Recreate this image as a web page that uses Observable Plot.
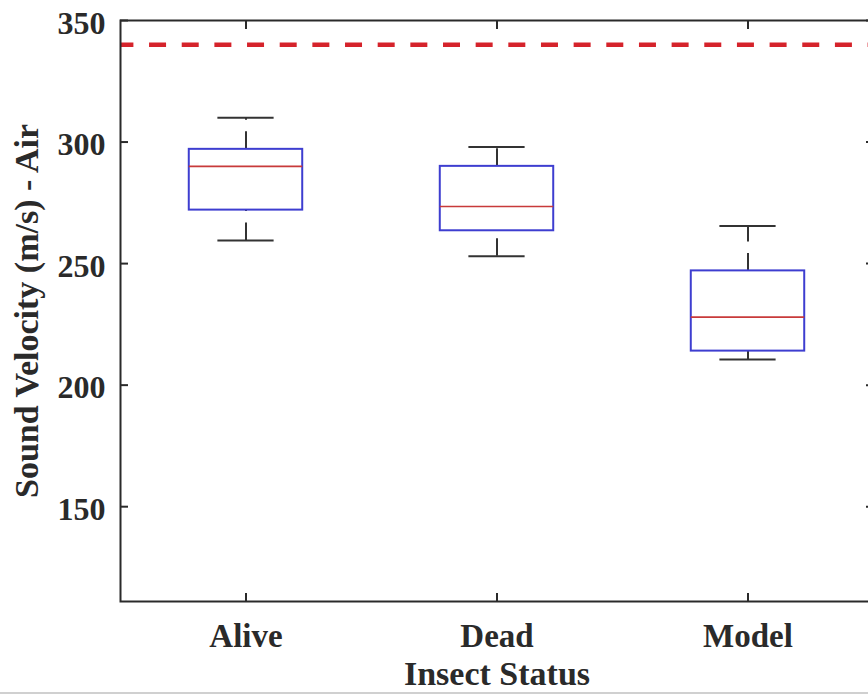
<!DOCTYPE html>
<html><head><meta charset="utf-8">
<script src="https://cdn.jsdelivr.net/npm/d3@7"></script>
<script src="https://cdn.jsdelivr.net/npm/@observablehq/plot@0.6"></script>
<style>
html,body{margin:0;padding:0;background:#fff;}
#wrap{width:868px;height:696px;overflow:hidden;position:relative;background:#fff;}
#edge{position:absolute;left:0;top:692px;width:868px;height:2px;background:#d0d0d0;z-index:2;}
</style></head><body>
<div id="wrap"><div id="chart"></div><div id="edge"></div></div>
<script>
const categories = ["Alive", "Dead", "Model"];
const positions = [1, 2, 3];
const upperWhisker = [310, 298, 265.5];
const q3 = [297, 290, 247];
const median = [290, 273.5, 228];
const q1 = [272, 263.5, 214];
const lowerWhisker = [259.5, 253, 210.5];
const referenceLine = [340];
const yTicks = [150, 200, 250, 300, 350];
const xTitle = "Insect Status";
const yTitle = "Sound Velocity (m/s) - Air";

const boxHalf = 0.226;
const capHalf = 0.112;
const axisColor = "#2a2a2a";
const font = "'Liberation Serif', 'Times New Roman', Times, serif";

const rows = categories.map((c, i) => ({
  cat: c, pos: positions[i], upper: upperWhisker[i], q3: q3[i],
  median: median[i], q1: q1[i], lower: lowerWhisker[i]
}));

const chart = Plot.plot({
  width: 868,
  height: 696,
  marginLeft: 120,
  marginTop: 20,
  marginBottom: 95,
  marginRight: -5,
  style: {fontFamily: font, fontWeight: "bold", color: axisColor, background: "white", overflow: "hidden"},
  x: {type: "linear", domain: [0.5, 3.5], range: [120, 873]},
  y: {type: "linear", domain: [111, 350], range: [601, 20]},
  marks: [
    Plot.ruleY(referenceLine, {y: d => d, stroke: "#d5232b", strokeWidth: 4.5, strokeDasharray: "17,15.66", strokeDashoffset: 3.6}),
    Plot.ruleX(rows, {x: "pos", y1: "q3", y2: "upper", stroke: "#333", strokeWidth: 2, strokeDasharray: "17.5,11.5"}),
    Plot.ruleX(rows, {x: "pos", y1: "lower", y2: "q1", stroke: "#333", strokeWidth: 2, strokeDasharray: "17.5,11.5"}),
    Plot.ruleY(rows, {y: "upper", x1: d => d.pos - capHalf, x2: d => d.pos + capHalf, stroke: "#333", strokeWidth: 2}),
    Plot.ruleY(rows, {y: "lower", x1: d => d.pos - capHalf, x2: d => d.pos + capHalf, stroke: "#333", strokeWidth: 2}),
    Plot.rect(rows, {x1: d => d.pos - boxHalf, x2: d => d.pos + boxHalf, y1: "q1", y2: "q3", fill: "none", stroke: "#3e3ed0", strokeWidth: 2}),
    Plot.ruleY(rows, {y: "median", x1: d => d.pos - boxHalf, x2: d => d.pos + boxHalf, stroke: "#c83a3a", strokeWidth: 1.6}),
    Plot.frame({stroke: axisColor, strokeWidth: 2}),
    Plot.axisY({ticks: yTicks, anchor: "left", tickSize: -8, tickFormat: () => "", label: null, stroke: axisColor, strokeWidth: 2}),
    Plot.axisY({ticks: yTicks, anchor: "left", tickSize: 0, tickPadding: 15, fontSize: 32, dy: 3, label: null}),
    Plot.axisY({ticks: yTicks, anchor: "right", tickSize: -8, tickFormat: () => "", label: null, stroke: axisColor, strokeWidth: 2}),
    Plot.axisX({ticks: positions, anchor: "bottom", tickSize: -8, tickPadding: 30, fontSize: 33, tickFormat: d => categories[positions.indexOf(d)], label: null, stroke: axisColor, strokeWidth: 2}),
    Plot.axisX({ticks: positions, anchor: "top", tickSize: -8, tickFormat: () => "", label: null, stroke: axisColor, strokeWidth: 2}),
    Plot.text([xTitle], {text: d => d, frameAnchor: "bottom", textAnchor: "middle", lineAnchor: "middle", dy: 73, fontSize: 34, fontWeight: "bold", fill: axisColor}),
    Plot.text([yTitle], {text: d => d, frameAnchor: "left", textAnchor: "middle", lineAnchor: "middle", rotate: -90, dx: -93, fontSize: 34, fontWeight: "bold", fill: axisColor})
  ]
});
document.getElementById("chart").appendChild(chart);
</script>
</body></html>
